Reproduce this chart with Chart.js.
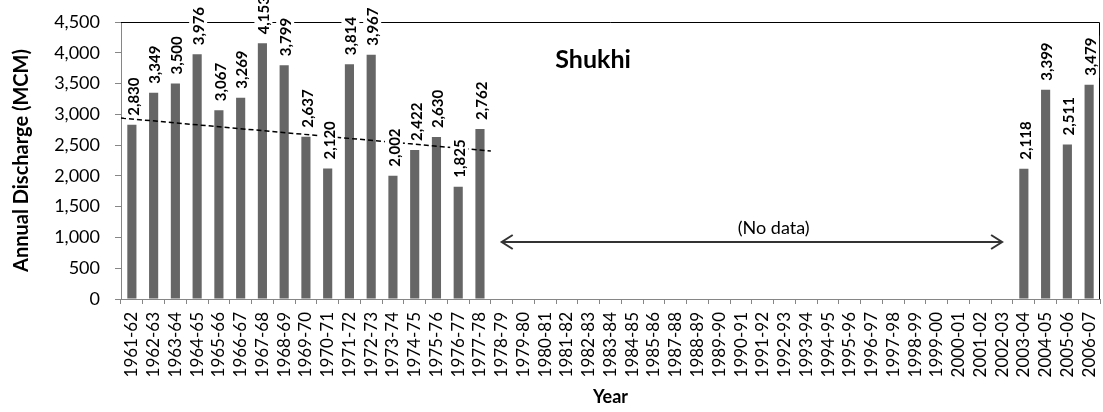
<!DOCTYPE html>
<html><head><meta charset="utf-8">
<script src="https://cdn.jsdelivr.net/npm/chart.js@4.4.0/dist/chart.umd.min.js"></script>
<style>html,body{margin:0;padding:0;background:#fff}#wrap{width:1103px;height:412px;position:relative}</style>
</head><body><div id="wrap"><canvas id="c"></canvas></div>
<script>
const categories = [
  '1961-62','1962-63','1963-64','1964-65','1965-66','1966-67','1967-68','1968-69','1969-70','1970-71',
  '1971-72','1972-73','1973-74','1974-75','1975-76','1976-77','1977-78','1978-79','1979-80','1980-81',
  '1981-82','1982-83','1983-84','1984-85','1985-86','1987-88','1988-89','1989-90','1990-91','1991-92',
  '1992-93','1993-94','1994-95','1995-96','1996-97','1997-98','1998-99','1999-00','2000-01','2001-02',
  '2002-03','2003-04','2004-05','2005-06','2006-07'
];
const discharge = [
  2830, 3349, 3500, 3976, 3067, 3269, 4153, 3799, 2637, 2120,
  3814, 3967, 2002, 2422, 2630, 1825, 2762, null, null, null,
  null, null, null, null, null, null, null, null, null, null,
  null, null, null, null, null, null, null, null, null, null,
  null, 2118, 3399, 2511, 3479
];
const trendX = [-0.5, 16.5];
const trendY = [2940, 2404];
const yMin = 0, yMax = 4500, yStep = 500;
const chartTitle = 'Shukhi';
const noDataText = '(No data)';
const yTitle = 'Annual Discharge (MCM)';
const xTitle = 'Year';

const FONT = 'Lato, "Open Sans", "DejaVu Sans", sans-serif';
const AXIS_GRAY = '#868686';

const deco = {
  id: 'deco',
  beforeDatasetsDraw(chart) {
    const {ctx, chartArea: a} = chart;
    ctx.save();
    ctx.strokeStyle = '#000';
    ctx.lineWidth = 1;
    ctx.beginPath();
    ctx.moveTo(a.left, Math.round(a.top) + 0.5);
    ctx.lineTo(Math.round(a.right) - 0.5, Math.round(a.top) + 0.5);
    ctx.lineTo(Math.round(a.right) - 0.5, a.bottom);
    ctx.stroke();
    ctx.restore();
  },
  afterDatasetsDraw(chart, args, opts) {
    const {ctx} = chart;
    const xs = chart.scales.x, ys = chart.scales.y;
    const meta = chart.getDatasetMeta(0);
    ctx.save();
    // linear trend line
    ctx.strokeStyle = '#000';
    ctx.lineWidth = 1.5;
    ctx.setLineDash([5, 3]);
    ctx.beginPath();
    ctx.moveTo(xs.getPixelForValue(trendX[0]), ys.getPixelForValue(trendY[0]));
    ctx.lineTo(xs.getPixelForValue(trendX[1]), ys.getPixelForValue(trendY[1]));
    ctx.stroke();
    ctx.setLineDash([]);
    // data labels
    ctx.font = 'bold 15px ' + FONT;
    meta.data.forEach((bar, i) => {
      const v = discharge[i];
      if (v === null || v === undefined) return;
      const txt = v.toLocaleString('en-US');
      const w = ctx.measureText(txt).width;
      ctx.save();
      ctx.translate(bar.x + 1, bar.y - 9);
      ctx.rotate(-Math.PI / 2);
      ctx.fillStyle = '#fff';
      ctx.fillRect(-2, -9, w + 4, 18);
      ctx.fillStyle = '#000';
      ctx.textAlign = 'left';
      ctx.textBaseline = 'middle';
      ctx.fillText(txt, 0, 1);
      ctx.restore();
    });
    // chart title
    ctx.fillStyle = '#000';
    ctx.font = 'bold 25px ' + FONT;
    ctx.textAlign = 'center';
    ctx.textBaseline = 'middle';
    ctx.fillText(chartTitle, xs.getPixelForValue(opts.titleAt[0]), ys.getPixelForValue(opts.titleAt[1]));
    // no data text
    ctx.font = '18px ' + FONT;
    ctx.fillText(noDataText, xs.getPixelForValue(opts.noDataTextAt[0]), ys.getPixelForValue(opts.noDataTextAt[1]));
    // arrow
    const x1 = xs.getPixelForValue(opts.arrowFrom), x2 = xs.getPixelForValue(opts.arrowTo);
    const ay = Math.round(ys.getPixelForValue(opts.arrowY));
    ctx.strokeStyle = '#333';
    ctx.lineWidth = 2;
    ctx.beginPath();
    ctx.moveTo(x1, ay); ctx.lineTo(x2, ay);
    ctx.moveTo(x1 + 11, ay - 7); ctx.lineTo(x1, ay); ctx.lineTo(x1 + 11, ay + 7);
    ctx.moveTo(x2 - 11, ay - 7); ctx.lineTo(x2, ay); ctx.lineTo(x2 - 11, ay + 7);
    ctx.stroke();
    ctx.restore();
  }
};

new Chart(document.getElementById('c'), {
  type: 'bar',
  data: {
    labels: categories,
    datasets: [
      {
        type: 'bar', data: discharge, backgroundColor: '#666666',
        categoryPercentage: 1, barPercentage: 0.42
      }
    ]
  },
  options: {
    responsive: true, maintainAspectRatio: false, animation: false, devicePixelRatio: 1,
    layout: {padding: {left: 0, right: 3, top: 22, bottom: 0}},
    plugins: {
      legend: {display: false}, tooltip: {enabled: false},
      deco: {
        titleAt: [21.2, 3880],
        noDataTextAt: [29.5, 1150],
        arrowFrom: 17, arrowTo: 40, arrowY: 925
      }
    },
    scales: {
      x: {
        type: 'category', offset: true,
        grid: {display: true, drawOnChartArea: false, drawTicks: true, tickLength: 5, color: AXIS_GRAY, offset: true},
        border: {display: true, color: AXIS_GRAY},
        ticks: {minRotation: 90, maxRotation: 90, autoSkip: false, color: '#000', padding: 8,
                font: {family: FONT, size: 17}},
        title: {display: true, text: xTitle, color: '#000', font: {family: FONT, size: 18, weight: 'bold'},
                padding: {top: 0, bottom: 4}},
        afterFit(s) { s.height = 113; s.paddingLeft = 0; s.paddingRight = 0; }
      },
      y: {
        min: yMin, max: yMax,
        grid: {display: true, drawOnChartArea: false, drawTicks: true, tickLength: 6, color: AXIS_GRAY},
        border: {display: true, color: AXIS_GRAY},
        ticks: {stepSize: yStep, color: '#000', padding: 15, font: {family: FONT, size: 18},
                callback: v => v.toLocaleString('en-US')},
        title: {display: true, text: yTitle, color: '#000', font: {family: FONT, size: 20, weight: 'bold'},
                padding: {top: 10, bottom: 0}},
        afterFit(s) { s.width = 121; s.paddingTop = 0; s.paddingBottom = 0; }
      }
    }
  },
  plugins: [deco]
});
</script>
</body></html>
